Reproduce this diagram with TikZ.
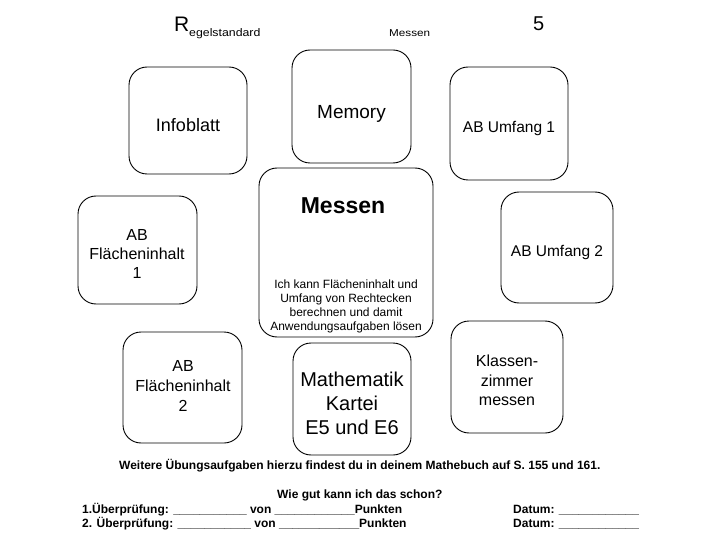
\documentclass[tikz,border=0pt]{standalone}
\usepackage{fontspec}
\setmainfont{Liberation Sans}
\usepackage{graphicx}
\newcommand{\fs}[1]{\fontsize{#1}{#1}\selectfont}
\begin{document}
\begin{tikzpicture}[x=1pt,y=-1pt,
  box/.style={draw, line width=0.9pt, rounded corners=18pt, inner sep=0pt},
  lbl/.style={align=center, inner sep=0pt},
  bt/.style={anchor=base west, inner sep=0pt, font=\fs{12}\bfseries},
]
\useasboundingbox (0,0) rectangle (720,540);
\fill[white] (0,0) rectangle (720,540);
% header
\node[anchor=base west, inner sep=0pt, font=\fs{21}] (R) at (174,32) {R};
\node[anchor=base west, inner sep=0pt, font=\fs{11}] (reg) at (189,36.5) {\scalebox{1.12}[1]{egelstandard}};
\node[anchor=base west, inner sep=0pt, font=\fs{10}] (hm) at (389,36.5) {\scalebox{1.17}[1]{Messen}};
\node[anchor=base west, inner sep=0pt, font=\fs{20}] (five) at (533,31) {5};
% boxes
\node[box, minimum width=118pt, minimum height=107pt] (b1) at (188,120.5) {};
\node[box, minimum width=119pt, minimum height=113pt] (b2) at (351.5,106.5) {};
\node[box, minimum width=118pt, minimum height=113pt] (b3) at (509,123.5) {};
\node[box, minimum width=174pt, minimum height=169pt] (b4) at (346,252.5) {};
\node[box, minimum width=119pt, minimum height=108pt] (b5) at (137.5,250) {};
\node[box, minimum width=112pt, minimum height=111pt] (b6) at (557,247.5) {};
\node[box, minimum width=119pt, minimum height=111pt] (b7) at (182.5,387.5) {};
\node[box, minimum width=118pt, minimum height=112pt] (b8) at (352,399) {};
\node[box, minimum width=112pt, minimum height=112pt] (b9) at (507,377) {};
% box texts
\node[lbl, anchor=base, font=\fs{18}] (t1) at (188,131.7) {Infoblatt};
\node[lbl, anchor=base, font=\fs{19}] (t2) at (351.5,118.3) {Memory};
\node[lbl, anchor=base, font=\fs{15.5}] (t3) at (509,133) {AB Umfang 1};
\node[lbl, anchor=base, font=\fs{23}\bfseries] (t4) at (343,213.3) {Messen};
\node[lbl, font=\fontsize{12}{14}\selectfont] (t4b) at (346,305.9) {Ich kann Flächeninhalt und\\Umfang von Rechtecken\\berechnen und damit\\Anwendungsaufgaben lösen};
\node[lbl, font=\fontsize{16}{19}\selectfont] (t5) at (137,254) {AB\\Flächeninhalt\\1};
\node[lbl, anchor=base, font=\fs{15.5}] (t6) at (557,256.7) {AB Umfang 2};
\node[lbl, font=\fontsize{16}{20}\selectfont] (t7) at (183,386) {AB\\Flächeninhalt\\2};
\node[lbl, font=\fontsize{20}{24}\selectfont] (t8) at (352,403.5) {Mathematik\\Kartei\\E5 und E6};
\node[lbl, font=\fontsize{16}{19.5}\selectfont] (t9) at (507,380.3) {Klassen-\\zimmer\\messen};
% bottom texts
\node[bt] (w1) at (119,469) {Weitere Übungsaufgaben hierzu findest du in deinem Mathebuch auf S. 155 und 161.};
\node[bt] (w2) at (277,498) {Wie gut kann ich das schon?};
\node[bt] (u1) at (82,513) {1.Überprüfung: \_\_\_\_\_\_\_\_\_\_\_ von \_\_\_\_\_\_\_\_\_\_\_\_Punkten};
\node[bt] (u2) at (82,527) {2. Überprüfung: \_\_\_\_\_\_\_\_\_\_\_ von \_\_\_\_\_\_\_\_\_\_\_\_Punkten};
\node[bt] (d1) at (513,513) {Datum: \_\_\_\_\_\_\_\_\_\_\_\_};
\node[bt] (d2) at (513,527) {Datum: \_\_\_\_\_\_\_\_\_\_\_\_};
\end{tikzpicture}
\end{document}
